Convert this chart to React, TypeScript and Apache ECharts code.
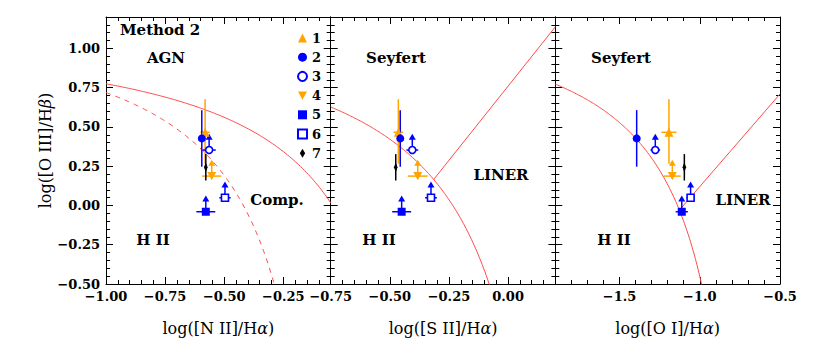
import React, { useEffect, useRef } from 'react';
import * as echarts from 'echarts';

// ---------------- data ----------------
const names = ['1', '2', '3', '4', '5', '6', '7'];
const oiiiHb = [0.466, 0.427, 0.353, 0.187, -0.04, 0.049, 0.243];
const oiiiErrLow = [0.2, 0.18, 0, 0, 0, 0, 0.084];
const oiiiErrHigh = [0.21, 0.18, 0.085, 0.085, 0.085, 0.085, 0.084];
const lowerLimit = [0, 0, 1, 1, 1, 1, 0];
const niiHa = [-0.581, -0.595, -0.564, -0.553, -0.578, -0.497, -0.578];
const niiErr = [0.02, 0, 0.028, 0.04, 0.04, 0.024, 0];
const siiHa = [-0.464, -0.456, -0.405, -0.382, -0.45, -0.326, -0.475];
const siiErr = [0.02, 0, 0.025, 0.042, 0.04, 0.025, 0];
const oiHa = [-1.192, -1.393, -1.277, -1.171, -1.112, -1.057, -1.096];
const oiErr = [0.047, 0, 0.03, 0.052, 0.038, 0.025, 0];

// demarcation lines: y = a / (x - b) + c ; y = m x + k
const kewleyNII = { a: 0.61, b: 0.47, c: 1.19 };
const kauffmannNII = { a: 0.61, b: 0.05, c: 1.3 };
const kewleySII = { a: 0.72, b: 0.32, c: 1.3 };
const seyLinerSII = { m: 1.89, k: 0.76, from: -0.315 };
const kewleyOI = { a: 0.73, b: -0.59, c: 1.33 };
const seyLinerOI = { m: 1.18, k: 1.3, from: -1.127 };

// axes
const xRange1 = [-1.0, -0.05];
const xRange2 = [-0.75, 0.2];
const xRange3 = [-1.9, -0.5];
const yRange = [-0.5, 1.2];
const xTicks1 = [-1.0, -0.75, -0.5, -0.25];
const xTicks2 = [-0.75, -0.5, -0.25, 0.0];
const xTicks3 = [-1.5, -1.0, -0.5];
const yTicks = [-0.5, -0.25, 0.0, 0.25, 0.5, 0.75, 1.0];

// ---------------- styles ----------------
const FONT = 'DejaVu Serif';
const RED = '#ff4a4a';
const TRI_DOWN = 'path://M0,0L10,0L5,9Z';
const THIN_DIAMOND = 'path://M3,0L6,5L3,10L0,5Z';
const markerSymbol = ['triangle', 'circle', 'circle', TRI_DOWN, 'rect', 'rect', THIN_DIAMOND];
const markerSize: any[] = [9, 8, 7, 9, 8, 7, [6, 10]];
const markerFill = ['#ffa500', '#0000ff', '#ffffff', '#ffa500', '#0000ff', '#ffffff', '#000000'];
const markerEdge = ['#ffa500', '#0000ff', '#0000ff', '#ffa500', '#0000ff', '#0000ff', '#000000'];
const markerEdgeWidth = [0, 0, 1.6, 0, 0, 1.6, 0];
const errColor = ['#ffa500', '#0000ff', '#0000ff', '#ffa500', '#0000ff', '#0000ff', '#000000'];

const GRID_TOP = 17;
const GRID_H = 267;
const GRID_W = 224.7;
const gridLefts = [106, 330.7, 555.3];

function hyper(p: { a: number; b: number; c: number }, x0: number, x1: number, n: number) {
  const out: number[][] = [];
  for (let i = 0; i <= n; i++) {
    const x = x0 + ((x1 - x0) * i) / n;
    out.push([x, p.a / (x - p.b) + p.c]);
  }
  return out;
}

function fmt(dec: number) {
  return (v: number) => (v < -1e-9 ? '\u2212' : '') + Math.abs(v).toFixed(dec);
}

const tickStyle = { color: '#000', width: 1 };

function axesX(p: number, range: number[], majors: number[], minorStep: number, dec: number, name: any) {
  const common = { type: 'value', gridIndex: p, min: range[0], max: range[1], splitLine: { show: false } };
  return [
    {
      ...common,
      position: 'bottom',
      axisLine: { show: true, onZero: false, lineStyle: tickStyle },
      axisTick: { show: true, inside: true, length: 7, customValues: majors, lineStyle: tickStyle },
      axisLabel: { show: true, customValues: majors, formatter: fmt(dec), margin: 6, fontFamily: FONT, fontWeight: 'bold', fontSize: 13, color: '#000' },
      name,
      nameLocation: 'middle',
      nameGap: 36,
      nameTextStyle: { fontFamily: FONT, fontSize: 16, color: '#000', rich: { a: { fontFamily: FONT, fontSize: 16, color: '#000' }, b: { fontFamily: FONT, fontSize: 16, fontStyle: 'italic', color: '#000' } } },
    },
    { ...common, position: 'bottom', interval: minorStep, axisLine: { show: false, onZero: false }, axisTick: { show: true, inside: true, length: 4, lineStyle: tickStyle }, axisLabel: { show: false } },
    { ...common, position: 'top', axisLine: { show: true, onZero: false, lineStyle: tickStyle }, axisTick: { show: true, inside: true, length: 7, customValues: majors, lineStyle: tickStyle }, axisLabel: { show: false } },
    { ...common, position: 'top', interval: minorStep, axisLine: { show: false, onZero: false }, axisTick: { show: true, inside: true, length: 4, lineStyle: tickStyle }, axisLabel: { show: false } },
  ];
}

function axesY(p: number, showLabels: boolean) {
  const common = { type: 'value', gridIndex: p, min: yRange[0], max: yRange[1], splitLine: { show: false } };
  return [
    {
      ...common,
      position: 'left',
      axisLine: { show: true, onZero: false, lineStyle: tickStyle },
      axisTick: { show: true, inside: true, length: 7, customValues: yTicks, lineStyle: tickStyle },
      axisLabel: { show: showLabels, customValues: yTicks, formatter: fmt(2), margin: 6, fontFamily: FONT, fontWeight: 'bold', fontSize: 13, color: '#000' },
      name: showLabels ? '{a|log([O III]/H}{b|\u03b2}{a|)}' : '',
      nameLocation: 'middle',
      nameRotate: 90,
      nameGap: 52,
      nameTextStyle: { fontFamily: FONT, fontSize: 16, color: '#000', rich: { a: { fontFamily: FONT, fontSize: 16, color: '#000' }, b: { fontFamily: FONT, fontSize: 16, fontStyle: 'italic', color: '#000' } } },
    },
    { ...common, position: 'left', interval: 0.05, axisLine: { show: false, onZero: false }, axisTick: { show: true, inside: true, length: 4, lineStyle: tickStyle }, axisLabel: { show: false } },
    { ...common, position: 'right', axisLine: { show: true, onZero: false, lineStyle: tickStyle }, axisTick: { show: true, inside: true, length: 7, customValues: yTicks, lineStyle: tickStyle }, axisLabel: { show: false } },
    { ...common, position: 'right', interval: 0.05, axisLine: { show: false, onZero: false }, axisTick: { show: true, inside: true, length: 4, lineStyle: tickStyle }, axisLabel: { show: false } },
  ];
}

function pointSeries(p: number, xs: number[], xerr: number[]) {
  const out: any[] = [];
  out.push({
    type: 'custom',
    name: 'err' + p,
    xAxisIndex: 4 * p,
    yAxisIndex: 4 * p,
    z: 3,
    data: xs.map((x, k) => [x, oiiiHb[k], xerr[k], oiiiErrLow[k], oiiiErrHigh[k], lowerLimit[k], k]),
    renderItem: (_params: any, api: any) => {
      const x = api.value(0);
      const y = api.value(1);
      const xe = api.value(2);
      const yl = api.value(3);
      const yh = api.value(4);
      const lim = api.value(5);
      const k = api.value(6);
      const c = errColor[k];
      const st = { stroke: c, lineWidth: 1.5 };
      const ch: any[] = [];
      if (xe > 0) {
        const a = api.coord([x - xe, y]);
        const b = api.coord([x + xe, y]);
        ch.push({ type: 'line', shape: { x1: a[0], y1: a[1], x2: b[0], y2: b[1] }, style: st });
      }
      if (yl > 0 || yh > 0) {
        const a = api.coord([x, y - yl]);
        const b = api.coord([x, y + yh]);
        ch.push({ type: 'line', shape: { x1: a[0], y1: a[1], x2: b[0], y2: b[1] }, style: st });
      }
      if (lim) {
        const t = api.coord([x, y + yh]);
        ch.push({ type: 'polygon', shape: { points: [[t[0] - 3.5, t[1] + 3], [t[0] + 3.5, t[1] + 3], [t[0], t[1] - 3]] }, style: { fill: c } });
      }
      return { type: 'group', children: ch };
    },
  });
  xs.forEach((x, k) => {
    out.push({
      type: 'scatter',
      name: names[k],
      xAxisIndex: 4 * p,
      yAxisIndex: 4 * p,
      z: 5,
      symbol: markerSymbol[k],
      symbolKeepAspect: true,
      symbolSize: markerSize[k],
      itemStyle: { color: markerFill[k], borderColor: markerEdge[k], borderWidth: markerEdgeWidth[k], opacity: 1 },
      data: [[x, oiiiHb[k]]],
    });
  });
  return out;
}

function curve(p: number, data: number[][], dashed = false) {
  return {
    type: 'line',
    name: 'curve',
    xAxisIndex: 4 * p,
    yAxisIndex: 4 * p,
    data,
    showSymbol: false,
    symbol: 'none',
    clip: true,
    z: 2,
    lineStyle: { color: RED, width: 1, type: dashed ? [5, 5] : 'solid' },
  };
}

const annotations = [
  { text: 'Method 2', x: 120, y: 30, align: 'left' },
  { text: 'AGN', x: 166, y: 58, align: 'center' },
  { text: 'Comp.', x: 277, y: 200, align: 'center' },
  { text: 'H II', x: 153, y: 240, align: 'center' },
  { text: 'Seyfert', x: 396, y: 58, align: 'center' },
  { text: 'LINER', x: 501, y: 175, align: 'center' },
  { text: 'H II', x: 379, y: 240, align: 'center' },
  { text: 'Seyfert', x: 621, y: 58, align: 'center' },
  { text: 'LINER', x: 743, y: 200, align: 'center' },
  { text: 'H II', x: 614, y: 240, align: 'center' },
];

export default function App() {
  const ref = useRef<HTMLDivElement>(null);
  useEffect(() => {
    if (!ref.current) return;
    const chart = echarts.init(ref.current, undefined, { renderer: 'svg' });
    const xAxis = [
      ...axesX(0, xRange1, xTicks1, 0.05, 2, '{a|log([N II]/H}{b|\u03b1}{a|)}'),
      ...axesX(1, xRange2, xTicks2, 0.05, 2, '{a|log([S II]/H}{b|\u03b1}{a|)}'),
      ...axesX(2, xRange3, xTicks3, 0.1, 1, '{a|log([O I]/H}{b|\u03b1}{a|)}'),
    ];
    const yAxis = [...axesY(0, true), ...axesY(1, false), ...axesY(2, false)];
    const series: any[] = [
      curve(0, hyper(kewleyNII, xRange1[0], xRange1[1], 120)),
      curve(0, hyper(kauffmannNII, xRange1[0], -0.28, 120), true),
      curve(1, hyper(kewleySII, xRange2[0], -0.07, 120)),
      curve(1, [[seyLinerSII.from, seyLinerSII.m * seyLinerSII.from + seyLinerSII.k], [xRange2[1], seyLinerSII.m * xRange2[1] + seyLinerSII.k]]),
      curve(2, hyper(kewleyOI, xRange3[0], -0.98, 120)),
      curve(2, [[seyLinerOI.from, seyLinerOI.m * seyLinerOI.from + seyLinerOI.k], [xRange3[1], seyLinerOI.m * xRange3[1] + seyLinerOI.k]]),
      ...pointSeries(0, niiHa, niiErr),
      ...pointSeries(1, siiHa, siiErr),
      ...pointSeries(2, oiHa, oiErr),
    ];
    chart.setOption({
      animation: false,
      backgroundColor: '#fff',
      grid: gridLefts.map((l) => ({ left: l, top: GRID_TOP, width: GRID_W, height: GRID_H, containLabel: false })),
      xAxis,
      yAxis,
      legend: {
        data: names,
        orient: 'vertical',
        left: 292,
        top: 26,
        itemGap: 5.2,
        itemWidth: 9,
        itemHeight: 9,
        selectedMode: false,
        textStyle: { fontFamily: FONT, fontWeight: 'bold', fontSize: 13, color: '#000', lineHeight: 14 },
      },
      graphic: annotations.map((a) => ({
        type: 'text',
        x: a.x,
        y: a.y,
        z: 10,
        style: { text: a.text, fontFamily: FONT, fontWeight: 'bold', fontSize: 15, fill: '#000', textAlign: a.align, textVerticalAlign: 'middle' },
      })),
      series,
    });
    return () => chart.dispose();
  }, []);
  return <div ref={ref} style={{ position: 'fixed', left: 0, top: 0, width: 814, height: 357, background: '#fff' }} />;
}
